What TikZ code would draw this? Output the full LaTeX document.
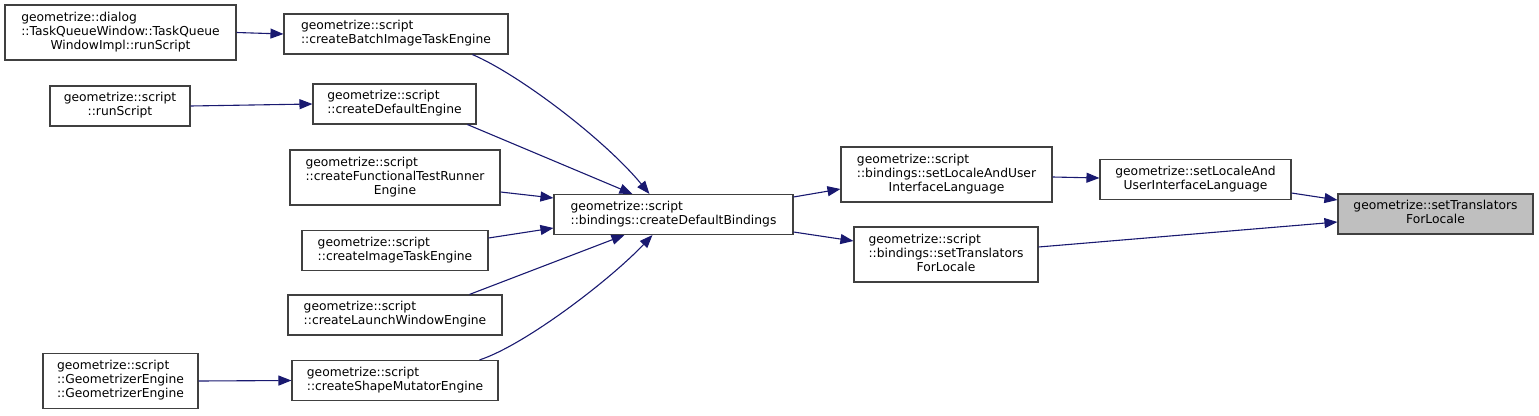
\documentclass[tikz,border=0pt]{standalone}
\usepackage{fontspec}
\setmainfont{DejaVu Sans}
\usetikzlibrary{arrows.meta,calc}
\definecolor{edgec}{HTML}{191970}
\definecolor{boxc}{HTML}{404040}
\definecolor{hlc}{HTML}{BFBFBF}
\newcommand{\twol}[2]{\begin{tabular}{@{}l@{}}#1\\\multicolumn{1}{@{}c@{}}{#2}\end{tabular}}
\newcommand{\threel}[3]{\begin{tabular}{@{}l@{}}#1\\#2\\\multicolumn{1}{@{}c@{}}{#3}\end{tabular}}
\tikzset{
  nbox/.style={draw=boxc, line width=1.1pt, fill=white, inner sep=0pt, text=black,
    font=\fontsize{12.3pt}{13.8pt}\selectfont},
  hlbox/.style={nbox, fill=hlc},
  edge/.style={draw=edgec, line width=1.1pt, -{Triangle[length=13pt,width=10pt]}},
}
\begin{document}
\begin{tikzpicture}[x=1pt,y=-1pt]
\useasboundingbox (0,0) rectangle (1539,415);
% left column
\node[nbox, minimum width=231pt, minimum height=55pt] (dlg) at (120.5,32.5)
  {\threel{geometrize::dialog}{::TaskQueueWindow::TaskQueue}{WindowImpl::runScript}};
\node[nbox, minimum width=140pt, minimum height=40pt] (run) at (120,106)
  {\twol{geometrize::script}{::runScript}};
\node[nbox, minimum width=155pt, minimum height=55pt] (geng) at (120.5,381)
  {\threel{geometrize::script}{::GeometrizerEngine}{::GeometrizerEngine}};
% second column
\node[nbox, minimum width=224pt, minimum height=40pt] (batch) at (396,34)
  {\twol{geometrize::script}{::createBatchImageTaskEngine}};
\node[nbox, minimum width=163pt, minimum height=40pt] (defeng) at (394.5,104)
  {\twol{geometrize::script}{::createDefaultEngine}};
\node[nbox, minimum width=210pt, minimum height=55pt] (func) at (395,177.5)
  {\threel{geometrize::script}{::createFunctionalTestRunner}{Engine}};
\node[nbox, minimum width=186pt, minimum height=40pt] (img) at (395,250.5)
  {\twol{geometrize::script}{::createImageTaskEngine}};
\node[nbox, minimum width=214pt, minimum height=40pt] (launch) at (395,315)
  {\twol{geometrize::script}{::createLaunchWindowEngine}};
\node[nbox, minimum width=206pt, minimum height=40pt] (shape) at (395,380.5)
  {\twol{geometrize::script}{::createShapeMutatorEngine}};
% third column
\node[nbox, minimum width=239pt, minimum height=40pt] (bind) at (673.5,214.5)
  {\twol{geometrize::script}{::bindings::createDefaultBindings}};
% fourth column
\node[nbox, minimum width=211pt, minimum height=55pt] (bloc) at (946.5,174.5)
  {\threel{geometrize::script}{::bindings::setLocaleAndUser}{InterfaceLanguage}};
\node[nbox, minimum width=184pt, minimum height=55pt] (btrans) at (946,254.5)
  {\threel{geometrize::script}{::bindings::setTranslators}{ForLocale}};
% fifth column
\node[nbox, minimum width=191pt, minimum height=40pt] (gloc) at (1195.5,179.5)
  {\twol{geometrize::setLocaleAnd}{UserInterfaceLanguage}};
% sixth column
\node[hlbox, minimum width=195pt, minimum height=40pt] (gtrans) at (1435.5,214)
  {\twol{geometrize::setTranslators}{ForLocale}};
% edges
\draw[edge] (dlg.east) -- (batch.west);
\draw[edge] (run.east) -- (defeng.west);
\draw[edge] (geng.east) -- (shape.west);
\draw[edge] ($(batch.south west)+(189,0)$) .. controls (520,75) and (605,140) .. ($(bind.north west)+(96,0)$);
\draw[edge] ($(defeng.south west)+(155,0)$) -- ($(bind.north west)+(79,0)$);
\draw[edge] ($(func.east)+(0,14.5)$) -- ($(bind.west)+(0,-16.5)$);
\draw[edge] ($(img.east)+(0,-12.5)$) -- ($(bind.west)+(0,13.5)$);
\draw[edge] ($(launch.north west)+(182,0)$) -- ($(bind.south west)+(71,0)$);
\draw[edge] ($(shape.north west)+(188,0)$) .. controls (525,345) and (610,280) .. ($(bind.south west)+(99,0)$);
\draw[edge] ($(bind.east)+(0,-17.5)$) -- ($(bloc.west)+(0,14.5)$);
\draw[edge] ($(bind.east)+(0,17.5)$) -- ($(btrans.west)+(0,-13.5)$);
\draw[edge] ($(bloc.east)+(0,2.5)$) -- ($(gloc.west)+(0,-1.5)$);
\draw[edge] ($(gloc.east)+(0,13.5)$) -- ($(gtrans.west)+(0,-14)$);
\draw[edge] ($(btrans.east)+(0,-7.5)$) -- ($(gtrans.west)+(0,8)$);
\end{tikzpicture}
\end{document}
